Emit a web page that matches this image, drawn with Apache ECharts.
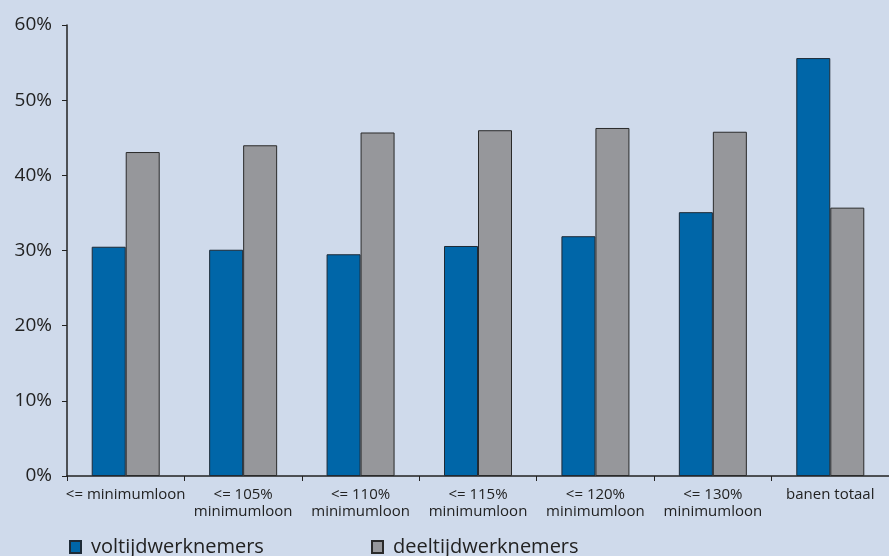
<!DOCTYPE html>
<html><head><meta charset="utf-8">
<script src="https://cdn.jsdelivr.net/npm/echarts@6/dist/echarts.min.js"></script>
<style>html,body{margin:0;padding:0;background:#cfdaeb;}#c{width:889px;height:556px;}</style>
</head><body><div id="c"></div>
<script>
const categories = ['<= minimumloon', '<= 105%\nminimumloon', '<= 110%\nminimumloon', '<= 115%\nminimumloon', '<= 120%\nminimumloon', '<= 130%\nminimumloon', 'banen totaal'];
const voltijd = [30.5, 30.1, 29.5, 30.6, 31.9, 35.1, 55.6];
const deeltijd = [43.1, 44.0, 45.7, 46.0, 46.3, 45.8, 35.7];
const seriesNames = ['voltijdwerknemers', 'deeltijdwerknemers'];
const yTicks = [0, 10, 20, 30, 40, 50, 60];

const font = '"Open Sans", "DejaVu Sans", sans-serif';
const chart = echarts.init(document.getElementById('c'));
const legendText = {fontFamily: font, fontSize: 20, color: '#222', padding: [0, 0, 0, 5]};
chart.setOption({
  backgroundColor: '#cfdaeb',
  animation: false,
  grid: {left: 67, right: -5, top: 25, bottom: 80, containLabel: false},
  legend: [
    {data: [seriesNames[0]], left: 69, top: 537, padding: 0, itemWidth: 11, itemHeight: 12, icon: 'rect',
     textStyle: legendText, itemGap: 10},
    {data: [seriesNames[1]], left: 371, top: 537, padding: 0, itemWidth: 11, itemHeight: 12, icon: 'rect',
     textStyle: legendText, itemGap: 10}
  ],
  xAxis: {
    type: 'category', data: categories,
    axisLine: {lineStyle: {color: '#222', width: 1.5}},
    axisTick: {show: true, length: 5, inside: false, lineStyle: {color: '#222'}},
    axisLabel: {fontFamily: font, fontSize: 15, color: '#222', lineHeight: 17, margin: 10, interval: 0}
  },
  yAxis: {
    type: 'value', min: 0, max: 60, interval: 10,
    axisLine: {show: true, lineStyle: {color: '#222', width: 1.5}},
    axisTick: {show: true, length: 5, lineStyle: {color: '#222'}},
    splitLine: {show: false},
    axisLabel: {fontFamily: font, fontSize: 19, color: '#222', margin: 15,
      formatter: v => yTicks.includes(v) ? v + '%' : ''}
  },
  series: [
    {name: seriesNames[0], type: 'bar', data: voltijd, barWidth: 34, barGap: '0%',
     itemStyle: {color: '#0066a8', borderColor: '#1e2a36', borderWidth: 1}},
    {name: seriesNames[1], type: 'bar', data: deeltijd, barWidth: 34, barGap: '0%',
     itemStyle: {color: '#96979b', borderColor: '#2a2a2a', borderWidth: 1}}
  ]
});
</script></body></html>
